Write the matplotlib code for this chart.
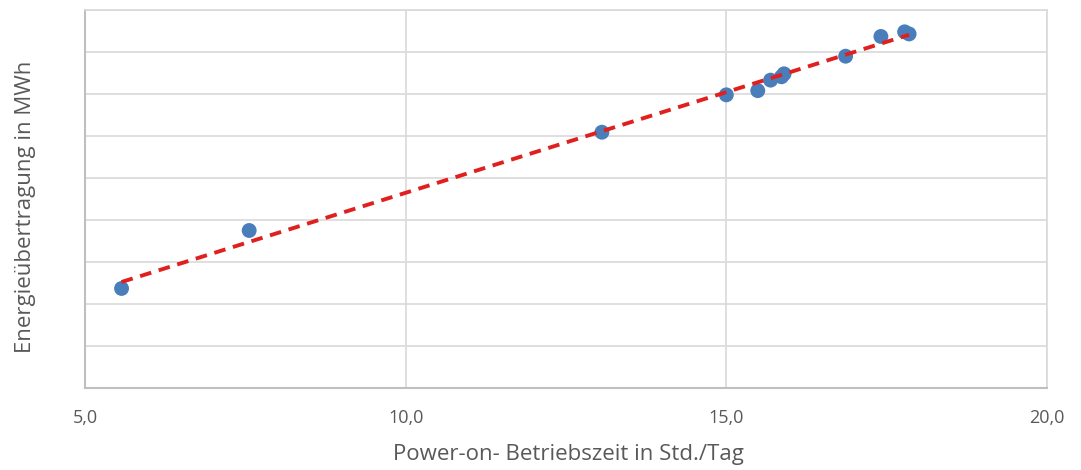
import matplotlib
matplotlib.use('Agg')
from matplotlib import pyplot as plt
import numpy as np

# Betriebszeit (Std./Tag) vs. Energieuebertragung (MWh, Achse ohne Werte)
stunden = [5.57, 7.56, 13.06, 15.00, 15.49, 15.69, 15.86, 15.90, 16.86, 17.41, 17.78, 17.85]
energie = [2.37, 3.75, 6.09, 6.98, 7.08, 7.33, 7.41, 7.48, 7.90, 8.37, 8.48, 8.43]
x_ticks = [5, 10, 15, 20]
x_labels = ['5,0', '10,0', '15,0', '20,0']

plt.rcParams['font.family'] = ['Open Sans', 'DejaVu Sans']

fig = plt.figure(figsize=(10.81, 4.70), dpi=100)
ax = fig.add_axes([85/1081, 82/470, 962/1081, 378/470])

grid_col = '#d9d9d9'
ax.set_xlim(5, 20)
ax.set_ylim(0, 9)
ax.set_xticks(x_ticks)
ax.set_xticklabels(x_labels)
ax.set_yticks(np.arange(0, 10))
ax.set_yticklabels([])
ax.grid(True, color=grid_col, linewidth=1.2)
ax.set_axisbelow(True)
ax.tick_params(length=0, labelsize=13, labelcolor='#595959', pad=15)
for s in ['top', 'right']:
    ax.spines[s].set_color(grid_col)
    ax.spines[s].set_linewidth(1.2)
for s in ['left', 'bottom']:
    ax.spines[s].set_color('#bfbfbf')
    ax.spines[s].set_linewidth(1.5)

ax.scatter(stunden, energie, s=115, color='#4a7ebb', zorder=3, edgecolors='none')

k, d = np.polyfit(stunden, energie, 1)
xs = np.array([min(stunden), max(stunden)])
ax.plot(xs, k * xs + d, color='#e0201f', linestyle=(0, (3, 2)), linewidth=2.8, zorder=4)

ax.set_xlabel('Power-on- Betriebszeit in Std./Tag', fontsize=16, color='#595959')
ax.set_ylabel('Energieübertragung in MWh', fontsize=16, color='#595959')
ax.xaxis.set_label_coords(0.503, -0.177)
ax.yaxis.set_label_coords(-0.062, 0.479)
ax.xaxis.label.set_verticalalignment('center')
ax.yaxis.label.set_verticalalignment('center')

fig.savefig('out.png', dpi=100)
